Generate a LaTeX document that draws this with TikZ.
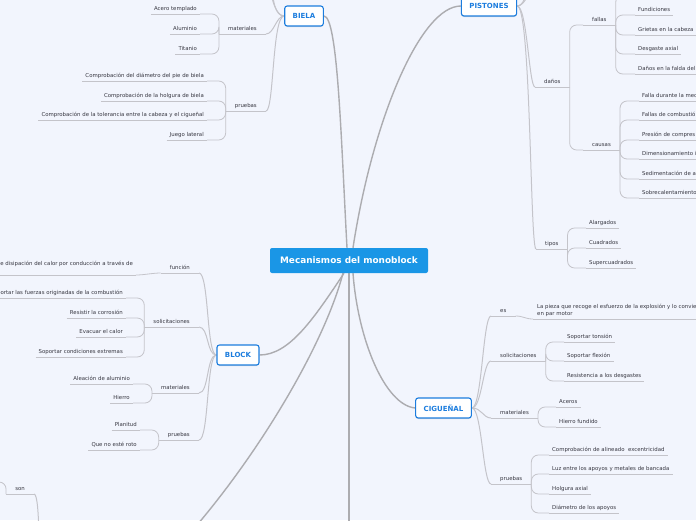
\documentclass[tikz,border=0pt]{standalone}
\usepackage{fontspec}
\setmainfont{DejaVu Sans}
\usetikzlibrary{backgrounds,shadows}

\definecolor{bgcol}{RGB}{242,245,253}
\definecolor{ctrblue}{RGB}{26,150,230}
\definecolor{mainblue}{RGB}{28,125,222}
\definecolor{trunkgray}{RGB}{172,172,176}
\definecolor{twiggray}{RGB}{196,196,202}
\definecolor{leaftxt}{RGB}{55,55,65}

\begin{document}
\begin{tikzpicture}[x=1pt,y=-1pt,
  ctr node/.style={fill=ctrblue,text=white,font=\bfseries\fontsize{8.9}{10}\selectfont,rounded corners=2pt,minimum width=158pt,minimum height=25pt},
  main node/.style={draw=mainblue,line width=1.1pt,fill=white,text=mainblue,font=\bfseries\fontsize{7}{8}\selectfont,rounded corners=2.5pt,minimum height=20pt,inner xsep=8pt,drop shadow={shadow xshift=0pt,shadow yshift=-1pt,opacity=.25}},
  sub node/.style={font=\fontsize{5.4}{7}\selectfont,text=leaftxt,inner xsep=9pt,inner ysep=2pt,text height=4pt,text depth=1pt},
  leaf node/.style={font=\fontsize{5.4}{7}\selectfont,text=leaftxt,inner xsep=3pt,inner ysep=2pt,text height=4pt,text depth=1pt},
  lsub/.style={sub node,anchor=south east},
  rsub/.style={sub node,anchor=south west},
  lleaf/.style={leaf node,anchor=south east},
  rleaf/.style={leaf node,anchor=south west},
  trunk/.style={draw=trunkgray,line width=1.4pt},
  twig/.style={draw=twiggray,line width=1pt},
  uline/.style={draw=twiggray,line width=0.8pt},
  brace/.style={draw=twiggray,line width=0.8pt,rounded corners=7pt}]

\useasboundingbox (0,0) rectangle (696,520);

\node[ctr node] (ctr) at (349,260.5) {Mecanismos del monoblock};
\node[main node] (biela) at (304,16) {BIELA};
\node[main node] (pist) at (489,6) {PISTONES};
\node[main node] (block) at (238,355) {BLOCK};
\node[main node] (cig) at (443.5,408) {CIGUEÑAL};

% nodes outside the page
\coordinate (offB) at (349,600);
\coordinate (offL) at (150,575);
\coordinate (offS) at (45,575);
\coordinate (sonc) at (-10,482);
\coordinate (bup1) at (272,-20);
\coordinate (bup2) at (268,-40);
\coordinate (pup1) at (527,-15);
\coordinate (pup2) at (532,-30);
\coordinate (pf0) at (636,-5);

% biela
\node[lsub] (bmat) at (266,34) {materiales};
\node[lsub] (bpru) at (266,111) {pruebas};
\node[lleaf] (acero) at (200,14) {Acero templado};
\node[lleaf] (alum) at (200,34) {Aluminio};
\node[lleaf] (tit) at (200,54) {Titanio};
\node[lleaf] (pr1) at (207,81) {Comprobación del diámetro del pie de biela};
\node[lleaf] (pr2) at (207,101) {Comprobación de la holgura de biela};
\node[lleaf] (pr3) at (207,120) {Comprobación de la tolerancia entre la cabeza y el cigueñal};
\node[lleaf] (pr4) at (207,140) {Juego lateral};

% block
\node[lsub] (kfun) at (199,273) {función};
\node[lleaf,inner ysep=8.5pt] (kf1) at (136,275) {e disipación del calor por conducción a través de};
\node[lsub] (ksol) at (199,327) {solicitaciones};
\node[lleaf] (ks1) at (126,298) {Soportar las fuerzas originadas de la combustión};
\node[lleaf] (ks2) at (126,318) {Resistir la corrosión};
\node[lleaf] (ks3) at (126,337) {Evacuar el calor};
\node[lleaf] (ks4) at (126,357) {Soportar condiciones extremas};
\node[lsub] (kmat) at (199,393) {materiales};
\node[lleaf] (km1) at (133,384) {Aleación de aluminio};
\node[lleaf] (km2) at (133,403) {Hierro};
\node[lsub] (kpru) at (199,440) {pruebas};
\node[lleaf] (kp1) at (140,430) {Planitud};
\node[lleaf] (kp2) at (140,450) {Que no esté roto};
\node[lsub] (son) at (34,494) {son};

% pistones
\node[rsub] (pdan) at (535,87) {daños};
\node[rsub] (pfal) at (583,25) {fallas};
\node[rsub] (pcau) at (583,150) {causas};
\node[rleaf] (pf1) at (635,15) {Fundiciones};
\node[rleaf] (pf2) at (635,35) {Grietas en la cabeza};
\node[rleaf] (pf3) at (635,54) {Desgaste axial};
\node[rleaf] (pf4) at (635,74) {Daños en la falda del};
\node[rleaf] (pc1) at (639,101) {Falla durante la mec};
\node[rleaf] (pc2) at (639,120) {Fallas de combustió};
\node[rleaf] (pc3) at (639,140) {Presión de compres};
\node[rleaf] (pc4) at (639,159) {Dimensionamiento i};
\node[rleaf] (pc5) at (639,179) {Sedimentación de a};
\node[rleaf] (pc6) at (639,198) {Sobrecalentamiento};
\node[rsub] (ptip) at (536,249) {tipos};
\node[rleaf] (pt1) at (586,228) {Alargados};
\node[rleaf] (pt2) at (586,248) {Cuadrados};
\node[rleaf] (pt3) at (586,268) {Supercuadrados};

% cigueñal
\node[rsub] (ces) at (491,316) {es};
\node[font=\fontsize{5.4}{7}\selectfont,text=leaftxt,inner xsep=4pt,inner ysep=2pt,align=left,anchor=south west] (ces1) at (533,319) {La pieza que recoge el esfuerzo de la explosión y lo convierte\\en par motor};
\node[rsub] (csol) at (491,361) {solicitaciones};
\node[rleaf] (cs1) at (564,342) {Soportar tonsión};
\node[rleaf] (cs2) at (564,361) {Soportar flexión};
\node[rleaf] (cs3) at (564,381) {Resistencia a los desgastes};
\node[rsub] (cmat) at (491,418) {materiales};
\node[rleaf] (cm1) at (556,407) {Aceros};
\node[rleaf] (cm2) at (556,427) {Hierro fundido};
\node[rsub] (cpru) at (491,484) {pruebas};
\node[rleaf] (cp1) at (549,455) {Comprobación de alineado\ \ excentricidad};
\node[rleaf] (cp2) at (549,474) {Luz entre los apoyos y metales de bancada};
\node[rleaf] (cp3) at (549,494) {Holgura axial};
\node[rleaf] (cp4) at (549,513) {Diámetro de los apoyos};

\begin{scope}[on background layer]
\fill[bgcol] (0,0) rectangle (696,520);

\draw[trunk] ([xshift=-2pt]ctr.north) .. controls +(-6,-110) and +(14,0) .. (biela.east);
\draw[trunk] ([xshift=4pt]ctr.north) .. controls +(20,-130) and +(-40,0) .. (pist.west);
\draw[trunk] ([xshift=-5pt]ctr.south) .. controls +(-30,45) and +(30,0) .. (block.east);
\draw[trunk] ([xshift=-6pt]ctr.south) .. controls +(-23,87) and +(80,-75) .. (offL);
\draw[trunk] (ctr.south) -- (offB);
\draw[trunk] ([xshift=4pt]ctr.south) .. controls +(5,67) and +(-30,-3) .. (cig.west);

\draw[twig] (biela.west) .. controls +(-8,0) and +(8,0) .. (bmat.south east);
\draw[twig] (biela.west) .. controls +(-12,0) and +(8,0) .. (bpru.south east);
\draw[twig] (biela.west) .. controls +(-9,0) and +(0,20) .. (bup1);
\draw[twig] (biela.west) .. controls +(-10,0) and +(0,30) .. (bup2);
\draw[twig] (pist.east) .. controls +(6,0) and +(0,10) .. (pup1);
\draw[twig] (pist.east) .. controls +(8,0) and +(0,20) .. (pup2);
\draw[twig] (pist.east) .. controls +(10,0) and +(-6,0) .. (pdan.south west);
\draw[twig] (pist.east) .. controls +(14,0) and +(-6,0) .. (ptip.south west);
\foreach \n in {kfun,ksol,kmat,kpru}
  \draw[twig] (block.west) .. controls +(-10,0) and +(10,0) .. (\n.south east);
\foreach \n in {ces,csol,cmat,cpru}
  \draw[twig] (cig.east) .. controls +(10,0) and +(-8,0) .. (\n.south west);
\draw[twig] (son.south east) .. controls +(7,0) and +(-8,0) .. (offS);

\draw[uline] (kfun.south west) .. controls +(-8,0) and +(8,0) .. (kf1.south east);
\draw[uline] (ces.south east) .. controls +(8,0) and +(-8,0) .. (ces1.south west);
\foreach \n in {acero,alum,tit} \draw[brace] (bmat.south west) |- (\n.south east);
\foreach \n in {pr1,pr2,pr3,pr4} \draw[brace] (bpru.south west) |- (\n.south east);
\foreach \n in {ks1,ks2,ks3,ks4} \draw[brace] (ksol.south west) |- (\n.south east);
\foreach \n in {km1,km2} \draw[brace] (kmat.south west) |- (\n.south east);
\foreach \n in {kp1,kp2} \draw[brace] (kpru.south west) |- (\n.south east);
\draw[brace] (son.south west) |- (sonc);
\foreach \n in {pfal,pcau} \draw[brace] (pdan.south east) |- (\n.south west);
\foreach \n in {pf1,pf2,pf3,pf4} \draw[brace] (pfal.south east) |- (\n.south west);
\draw[brace] (pfal.south east) |- (pf0);
\foreach \n in {pc1,pc2,pc3,pc4,pc5,pc6} \draw[brace] (pcau.south east) |- (\n.south west);
\foreach \n in {pt1,pt2,pt3} \draw[brace] (ptip.south east) |- (\n.south west);
\foreach \n in {cs1,cs2,cs3} \draw[brace] (csol.south east) |- (\n.south west);
\foreach \n in {cm1,cm2} \draw[brace] (cmat.south east) |- (\n.south west);
\foreach \n in {cp1,cp2,cp3,cp4} \draw[brace] (cpru.south east) |- (\n.south west);

\foreach \n in {bmat,bpru,acero,alum,tit,pr1,pr2,pr3,pr4,kfun,kf1,ksol,ks1,ks2,ks3,ks4,kmat,km1,km2,kpru,kp1,kp2,son,
  pdan,pfal,pcau,pf1,pf2,pf3,pf4,pc1,pc2,pc3,pc4,pc5,pc6,ptip,pt1,pt2,pt3,
  ces,ces1,csol,cs1,cs2,cs3,cmat,cm1,cm2,cpru,cp1,cp2,cp3,cp4}
  \draw[uline] (\n.south west) -- (\n.south east);
\end{scope}

\end{tikzpicture}
\end{document}
